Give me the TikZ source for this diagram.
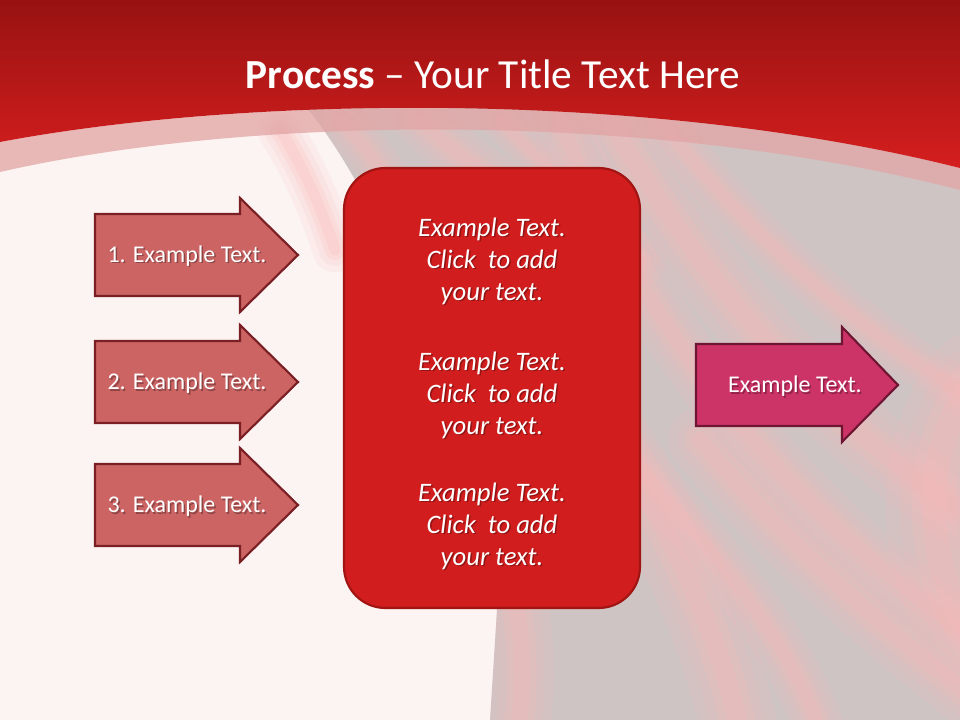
\documentclass[tikz,border=0pt]{standalone}
\usepackage{fontspec}
\setmainfont{Carlito}
\definecolor{redTop}{HTML}{981212}
\definecolor{redBot}{HTML}{D51E1E}
\definecolor{bandPink}{HTML}{E2A4A4}
\definecolor{bgWhite}{HTML}{FCF4F3}
\definecolor{bgGray}{HTML}{CFC4C4}
\definecolor{streakPink}{HTML}{FAB9B9}
\definecolor{arrowFill}{HTML}{CC6464}
\definecolor{arrowLine}{HTML}{7A1F24}
\definecolor{boxFill}{HTML}{D11D1D}
\definecolor{boxLine}{HTML}{A01414}
\definecolor{rarrowFill}{HTML}{CC3366}
\definecolor{rarrowLine}{HTML}{6E1533}
\newcommand\mystreak[2]{%
  \draw[streakPink, line width=2.4*#1, opacity=0.12, line cap=round] #2;
  \draw[streakPink, line width=1.7*#1, opacity=0.15, line cap=round] #2;
  \draw[streakPink, line width=1.1*#1, opacity=0.2, line cap=round] #2;
  \draw[streakPink, line width=0.6*#1, opacity=0.25, line cap=round] #2;}
\begin{document}
\begin{tikzpicture}[x=0.75pt,y=-0.75pt,
  arrowshape/.style={draw=arrowLine, fill=arrowFill, line width=1.6pt, line join=miter},
  rarrowshape/.style={draw=rarrowLine, fill=rarrowFill, line width=1.6pt, line join=miter},
  lbl/.style={text=white, font=\fontsize{18}{22}\selectfont, anchor=base},
  lblshadow/.style={text=black, text opacity=0.3, font=\fontsize{18}{22}\selectfont, anchor=base},
  boxtext/.style={text=white, align=center, font=\itshape\fontsize{20}{24}\selectfont},
  boxshadow/.style={text=black, text opacity=0.3, align=center, font=\itshape\fontsize{20}{24}\selectfont}]
\useasboundingbox (0,0) rectangle (960,720);
% background
\fill[bgWhite] (0,0) rectangle (960,720);
\begin{scope}[opacity=0.25]
\mystreak{14}{(280,130) .. controls (305,170) and (322,210) .. (335,250)}
\end{scope}
\begin{scope}
  \clip (300,100) -- (960,100) -- (960,720) -- (490,720) -- (497,610) .. controls (480,430) and (380,190) .. (300,100) -- cycle;
  \fill[bgGray] (0,0) rectangle (960,720);
  \mystreak{22}{(610,120) .. controls (700,280) and (820,420) .. (975,520)}
  \mystreak{14}{(660,120) .. controls (760,250) and (860,330) .. (975,400)}
  \mystreak{18}{(560,120) .. controls (640,330) and (800,520) .. (975,640)}
  \mystreak{24}{(520,300) .. controls (620,450) and (700,560) .. (740,730)}
  \mystreak{16}{(600,420) .. controls (700,540) and (780,620) .. (820,730)}
  \mystreak{20}{(500,540) .. controls (525,620) and (525,680) .. (518,730)}
  \mystreak{16}{(420,120) .. controls (480,180) and (560,220) .. (640,260)}
  \mystreak{14}{(340,120) .. controls (380,160) and (400,200) .. (420,240)}
  \mystreak{12}{(500,120) .. controls (540,160) and (580,200) .. (610,240)}
  \mystreak{20}{(700,440) .. controls (800,560) and (900,640) .. (975,700)}
  \mystreak{30}{(975,380) .. controls (920,450) and (920,560) .. (975,640)}
\end{scope}
% top band
\fill[bandPink, opacity=0.75] (0,142) .. controls (250,95) and (650,90) .. (960,168) -- (960,190) .. controls (650,110) and (250,115) .. (0,172) -- cycle;
\shade[top color=redTop, bottom color=redBot] (0,0) -- (960,0) -- (960,168) .. controls (650,90) and (250,95) .. (0,142) -- cycle;
\node[text=white, font=\fontsize{31}{37}\selectfont, anchor=base] (title) at (493,88.5) {\textbf{Process} – Your Title Text Here};
% left arrows
\foreach \cy/\n in {255/1, 382/2, 505/3}{
  \begin{scope}[shift={(0,\cy)}]
    \draw[arrowshape] (95,-41) -- (240,-41) -- (240,-57) -- (298,0) -- (240,57) -- (240,41) -- (95,41) -- cycle;
  \end{scope}
  \node[lblshadow] (ls\n) at (188.5,\cy+9) {\n. Example Text.};
  \node[lbl] (l\n) at (187,\cy+7.5) {\n. Example Text.};
}
% center box
\node[draw=boxLine, fill=boxFill, line width=1.6pt, rounded corners=31pt, minimum width=222pt, minimum height=330pt, inner sep=0pt] (box) at (492,388) {};
\foreach \cy/\n in {261/1, 395/2, 526/3}{
  \node[boxshadow] (bs\n) at (493.5,\cy+1.5) {Example Text.\\Click\ \ to add\\your text.};
  \node[boxtext] (b\n) at (492,\cy) {Example Text.\\Click\ \ to add\\your text.};
}
% right arrow
\draw[rarrowshape] (696,344) -- (842,344) -- (842,327) -- (898,385) -- (842,442) -- (842,426) -- (696,426) -- cycle;
\node[lblshadow] (rs) at (796.5,394) {Example Text.};
\node[lbl] (r) at (795,392.5) {Example Text.};
\end{tikzpicture}
\end{document}
